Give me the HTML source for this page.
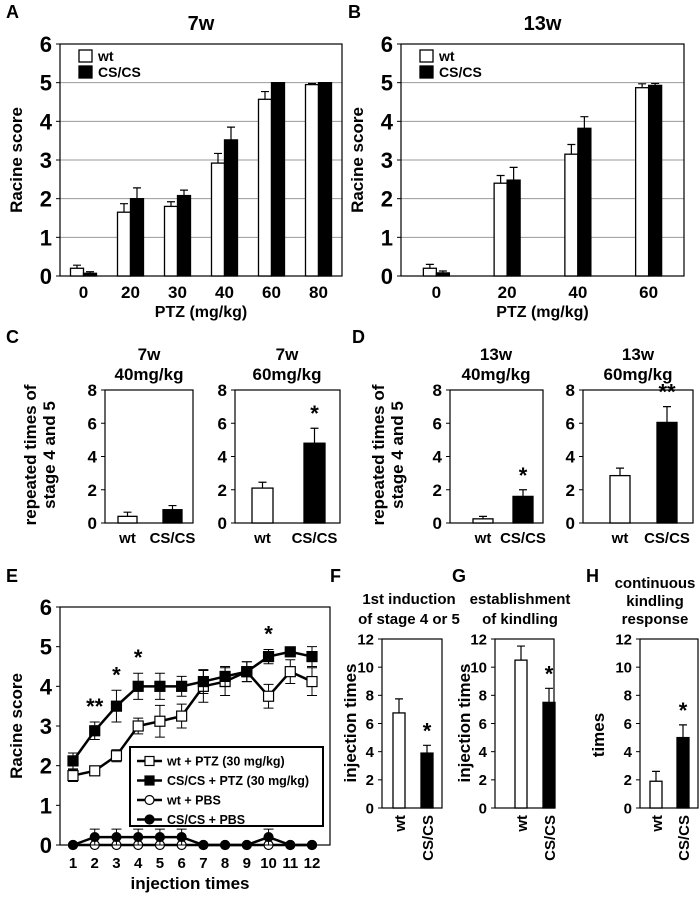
<!DOCTYPE html>
<html><head><meta charset="utf-8">
<style>
html,body{margin:0;padding:0;background:#fff;}
svg{display:block;font-family:"Liberation Sans",Arial,sans-serif;font-weight:bold;}
</style></head>
<body>
<svg id="fig" width="700" height="899" viewBox="0 0 700 899" xmlns="http://www.w3.org/2000/svg">
<text x="6" y="18" font-size="18">A</text>
<text x="348" y="18" font-size="18">B</text>
<text x="6" y="343" font-size="18">C</text>
<text x="352" y="343" font-size="18">D</text>
<text x="6" y="582" font-size="18">E</text>
<text x="330" y="582" font-size="18">F</text>
<text x="452" y="582" font-size="18">G</text>
<text x="586" y="582" font-size="18">H</text>
</svg>
<script>
// ---- data ----
const aCategories = ['0','20','30','40','60','80'];
const aWt = [0.2,1.65,1.8,2.92,4.57,4.95];
const aWtErr = [0.08,0.22,0.12,0.25,0.2,0.03];
const aCs = [0.07,2.0,2.08,3.52,5.0,5.0];
const aCsErr = [0.04,0.28,0.14,0.33,0,0];
const bCategories = ['0','20','40','60'];
const bWt = [0.2,2.4,3.15,4.87];
const bWtErr = [0.1,0.2,0.25,0.1];
const bCs = [0.08,2.48,3.82,4.93];
const bCsErr = [0.05,0.33,0.3,0.05];
const scoreTicks = [0,1,2,3,4,5,6];
const cdTicks = [0,2,4,6,8];
const c40 = [0.4,0.8]; const c40Err = [0.25,0.25];
const c60 = [2.1,4.8]; const c60Err = [0.35,0.9];
const d40 = [0.25,1.6]; const d40Err = [0.15,0.4];
const d60 = [2.85,6.05]; const d60Err = [0.45,0.95];
const eX = [1,2,3,4,5,6,7,8,9,10,11,12];
const eWtPtz = [1.75,1.87,2.25,3.0,3.12,3.25,4.0,4.12,4.37,3.75,4.37,4.12];
const eWtPtzErr = [0.15,0.1,0.15,0.2,0.4,0.3,0.4,0.35,0.25,0.3,0.3,0.35];
const eCsPtz = [2.12,2.88,3.5,4.0,4.0,4.0,4.12,4.25,4.37,4.75,4.87,4.75];
const eCsPtzErr = [0.2,0.22,0.4,0.33,0.33,0.25,0.3,0.25,0.25,0.18,0.1,0.25];
const eWtPbs = [0,0,0,0,0,0,0,0,0,0,0,0];
const eCsPbs = [0,0.2,0.2,0.2,0.2,0.2,0,0,0,0.2,0,0];
const eCsPbsErr = [0,0.2,0.2,0.2,0.2,0.2,0,0,0,0.2,0,0];
const fghTicks = [0,2,4,6,8,10,12];
const fVals = [6.75,3.9]; const fErr = [1.0,0.55];
const gVals = [10.5,7.5]; const gErr = [1.0,1.0];
const hVals = [1.9,5.0]; const hErr = [0.7,0.9];

const svg = document.getElementById('fig');
const NS = 'http://www.w3.org/2000/svg';
function mk(tag, at, parent){const e=document.createElementNS(NS,tag);for(const k in at)e.setAttribute(k,at[k]);(parent||svg).appendChild(e);return e;}
function txt(x,y,s,size,anchor,rot){const t=mk('text',{x:x,y:y,'font-size':size,'text-anchor':anchor||'middle'});if(rot)t.setAttribute('transform','rotate(-90 '+x+' '+y+')');t.textContent=s;return t;}

function yScale(y0,y1,max){return v=>y0-(y0-y1)*v/max;}

function frame(x0,x1,yTop,yBot,ticks,max,fs,grid,name){
  const Y=yScale(yBot,yTop,max);
  ticks.forEach(t=>{
    if(grid && t>0 && t<max){const g=mk('line',{x1:x0,x2:x1,y1:Y(t),y2:Y(t),stroke:'#999','stroke-width':1});
      
      }
    const tk=mk('line',{x1:x0-4,x2:x0,y1:Y(t),y2:Y(t),stroke:'#000','stroke-width':1});
    
    
    const l=txt(x0-8,Y(t)+fs*0.36,String(t),fs,'end');
    
    
  });
  const r=mk('rect',{x:x0,y:yTop,width:x1-x0,height:yBot-yTop,fill:'none',stroke:'#000','stroke-width':1.2});
  
  
  return Y;
}
function bar(x,w,v,err,Y,black,name){
  const b=mk('rect',{x:x,y:Y(v),width:w,height:Y(0)-Y(v),fill:black?'#000':'#fff',stroke:'#000','stroke-width':1.3});
  
  
  if(err>0){const cx=x+w/2;
    const e=mk('path',{d:'M'+cx+' '+Y(v)+'V'+Y(v+err)+'M'+(cx-4)+' '+Y(v+err)+'H'+(cx+4),stroke:'#000','stroke-width':1.2,fill:'none'});
    
    }
}

// ---- Panel A & B ----
function groupPanel(x0,x1,cats,wt,wtE,cs,csE,title,name){
  const Y=frame(x0,x1,44,276,scoreTicks,6,22,true,name);
  const gw=(x1-x0)/cats.length, bw=13;
  cats.forEach((c,i)=>{
    const cx=x0+gw*(i+0.5);
    bar(cx-bw,bw,wt[i],wtE[i],Y,false,name+'-bar-wt-'+c);
    bar(cx,bw,cs[i],csE[i],Y,true,name+'-bar-cscs-'+c);
    const l=txt(cx,298,c,17);
    
    
  });
  const t=txt((x0+x1)/2,30,title,20);
  
  
  const xt=txt((x0+x1)/2,317,'PTZ (mg/kg)',16);
  
  
  const yt=txt(x0-38,160,'Racine score',17,'middle',true);
  
  
  [['wt',false,50],['CS/CS',true,66]].forEach(([lab,bl,y])=>{
    const s=mk('rect',{x:x0+19,y:y,width:13,height:12,fill:bl?'#000':'#fff',stroke:'#000','stroke-width':1.3});
    
    
    const lt=txt(x0+38,y+11,lab,14,'start');
    
    
  });
}
groupPanel(60,342,aCategories,aWt,aWtErr,aCs,aCsErr,'7w','panel-a');
groupPanel(401,684,bCategories,bWt,bWtErr,bCs,bCsErr,'13w','panel-b');

// ---- C/D and F/G/H two-bar panels ----
function twoBar(x0,x1,yTop,yBot,ticks,max,vals,errs,b1,b2,bw,fs,name,stars,rotLabels){
  const Y=frame(x0,x1,yTop,yBot,ticks,max,fs,false,name);
  bar(b1,bw,vals[0],errs[0],Y,false,name+'-bar-wt');
  bar(b2,bw,vals[1],errs[1],Y,true,name+'-bar-cscs');
  if(stars){const s=txt(b2+bw/2,Y(vals[1]+errs[1])-7,stars,22);
    
    }
  const labs=['wt','CS/CS'];[b1,b2].forEach((bx,i)=>{
    let l;
    if(rotLabels) l=txt(bx+bw/2+6,yBot+7,labs[i],15,'end',true);
    else l=txt(bx+bw/2,yBot+20,labs[i],15);
    
    
  });
}
function cdTitle(x,l1,l2,name){
  const a=txt(x,360,l1,17);
  const b=txt(x,380,l2,17);
}
twoBar(105,193,390,523,cdTicks,8,c40,c40Err,118,163,19,17,'panel-c-40',null,false);
twoBar(235,340,390,523,cdTicks,8,c60,c60Err,252,304,21,17,'panel-c-60','*',false);
twoBar(450,543,390,523,cdTicks,8,d40,d40Err,473,513,20,17,'panel-d-40','*',false);
twoBar(583,693,390,523,cdTicks,8,d60,d60Err,610,657,20,17,'panel-d-60','**',false);
cdTitle(149,'7w','40mg/kg','panel-c-40');
cdTitle(287,'7w','60mg/kg','panel-c-60');
cdTitle(496,'13w','40mg/kg','panel-d-40');
cdTitle(638,'13w','60mg/kg','panel-d-60');
[[36,'panel-c'],[384,'panel-d']].forEach(([x,n])=>{
  const a=txt(x,455,'repeated times of',17,'middle',true);
  const b=txt(x+19,455,'stage 4 and 5',17,'middle',true);
});

twoBar(382,442,639,808,fghTicks,12,fVals,fErr,393,421,12,15,'panel-f','*',true);
twoBar(495,554,639,808,fghTicks,12,gVals,gErr,515,543,12,15,'panel-g','*',true);
twoBar(640,698,639,808,fghTicks,12,hVals,hErr,650,677,12,15,'panel-h','*',true);
[[409,604,'1st induction','panel-f-title'],[409,624,'of stage 4 or 5','panel-f-title-line2'],
 [520,604,'establishment','panel-g-title'],[520,624,'of kindling','panel-g-title-line2'],
 [655,588,'continuous','panel-h-title'],[655,606,'kindling','panel-h-title-line2'],[655,624,'response','panel-h-title-line3']].forEach(([x,y,s,n])=>{
  const t=txt(x,y,s,15);
});
[[356,723,'injection times','panel-f'],[470,723,'injection times','panel-g'],[604,735,'times','panel-h']].forEach(([x,y,s,n])=>{
  const t=txt(x,y,s,17,'middle',true);
});

// ---- Panel E ----
(function(){
  const x0=60,x1=330,yTop=607,yBot=845;
  const Y=frame(x0,x1,yTop,yBot,scoreTicks,6,22,false,'panel-e');
  const X=v=>73+(v-1)*(312-73)/11;
  eX.forEach(v=>{
    const l=txt(X(v),868,String(v),15);
    
    
  });
  function series(vals,errs,marker,fill,name){
    if(errs) vals.forEach((v,i)=>{ if(errs[i]>0){const x=X(eX[i]);
      const e=mk('path',{d:'M'+x+' '+Y(v-errs[i])+'V'+Y(v+errs[i])+'M'+(x-5)+' '+Y(v+errs[i])+'H'+(x+5)+'M'+(x-5)+' '+Y(v-errs[i])+'H'+(x+5),stroke:'#000','stroke-width':1,fill:'none'});
      
      }});
    const ln=mk('polyline',{points:vals.map((v,i)=>X(eX[i])+','+Y(v)).join(' '),fill:'none',stroke:'#000','stroke-width':2.5});
    
    
    vals.forEach((v,i)=>{
      let m;
      if(marker==='sq') m=mk('rect',{x:X(eX[i])-5,y:Y(v)-5,width:10,height:10,fill:fill,stroke:'#000','stroke-width':1.2});
      else m=mk('circle',{cx:X(eX[i]),cy:Y(v),r:4.5,fill:fill,stroke:'#000','stroke-width':1.2});
      
      
    });
  }
  series(eWtPbs,null,'c','#fff','wt-pbs');
  series(eCsPbs,eCsPbsErr,'c','#000','cscs-pbs');
  series(eWtPtz,eWtPtzErr,'sq','#fff','wt-ptz');
  series(eCsPtz,eCsPtzErr,'sq','#000','cscs-ptz');
  [[2,'**'],[3,'*'],[4,'*'],[10,'*']].forEach(([i,s])=>{
    const t=txt(X(i),Y(eCsPtz[i-1]+eCsPtzErr[i-1])-8,s,22);
    
    
  });
  const xt=txt(190,889,'injection times',17);
  
  
  const yt=txt(22,726,'Racine score',17,'middle',true);
  
  
  const lg=mk('rect',{x:130,y:747,width:193,height:79,fill:'#fff',stroke:'#000','stroke-width':2});
  
  
  [['wt + PTZ (30 mg/kg)','sq','#fff'],['CS/CS + PTZ (30 mg/kg)','sq','#000'],['wt + PBS','c','#fff'],['CS/CS + PBS','c','#000']].forEach(([s,m,f],i)=>{
    const y=761+i*19.5;
    const l=mk('line',{x1:137,x2:162,y1:y,y2:y,stroke:'#000','stroke-width':2.5});
    
    
    let mm;
    if(m==='sq') mm=mk('rect',{x:145,y:y-4.5,width:9,height:9,fill:f,stroke:'#000','stroke-width':1.2});
    else mm=mk('circle',{cx:149.5,cy:y,r:4.5,fill:f,stroke:'#000','stroke-width':1.2});
    
    
    const t=txt(167,y+4.5,s,12.5,'start');
    
    
  });
})();
</script>
</body></html>
